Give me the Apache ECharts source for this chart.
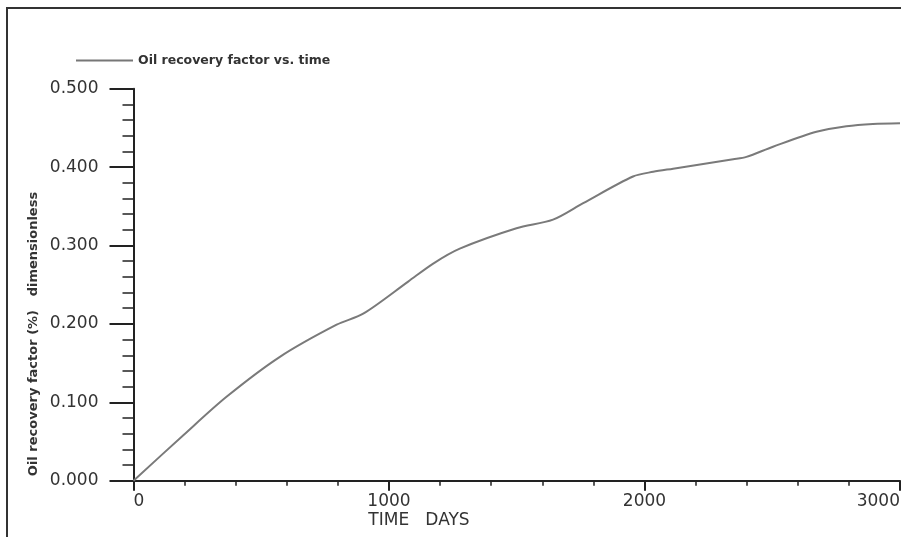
<!DOCTYPE html>
<html>
<head>
<meta charset="utf-8">
<script src="https://cdn.jsdelivr.net/npm/echarts@6/dist/echarts.min.js"></script>
<style>
html,body{margin:0;padding:0;background:#fff;}
#chart{width:901px;height:537px;}
</style>
</head>
<body>
<div id="chart"></div>
<script>
const seriesName = 'Oil recovery factor vs. time';
const timeDays = [0, 195, 364, 573, 795, 899, 1075, 1173, 1277, 1499, 1642, 1760, 1955, 2034, 2112, 2347, 2399, 2503, 2673, 2790, 2894, 3000];
const recovery = [0, 0.058, 0.107, 0.158, 0.199, 0.213, 0.254, 0.277, 0.296, 0.322, 0.333, 0.354, 0.388, 0.394, 0.398, 0.410, 0.413, 0.426, 0.445, 0.452, 0.455, 0.456];
const xTitle = 'TIME   DAYS';
const yTitle = 'Oil recovery factor (%)   dimensionless';

const chart = echarts.init(document.getElementById('chart'), null, {renderer: 'canvas'});
const axisColor = '#222';
const option = {
  animation: false,
  backgroundColor: '#fff',
  grid: {left: 133.5, right: 1, top: 88.7, bottom: 56.3, containLabel: false, outerBoundsMode: 'none'},
  legend: {
    left: 76, top: 54, padding: 0,
    icon: 'rect', itemWidth: 57, itemHeight: 2,
    itemStyle: {color: '#777'},
    textStyle: {fontFamily: 'DejaVu Sans', fontWeight: 'bold', fontSize: 12.5, color: '#333'},
    data: [seriesName]
  },
  xAxis: {
    type: 'value', min: 0, max: 3000, interval: 1000,
    axisLine: {show: true, onZero: false, lineStyle: {color: axisColor, width: 2}},
    axisTick: {show: true, inside: false, length: 10, lineStyle: {color: axisColor, width: 2}},
    minorTick: {show: true, splitNumber: 5, length: 5, lineStyle: {color: axisColor, width: 1.5}},
    splitLine: {show: false},
    axisLabel: {margin: 12, fontFamily: 'DejaVu Sans', fontSize: 17, color: '#333',
      alignMinLabel: 'left', alignMaxLabel: 'right', formatter: v => String(v)}
  },
  yAxis: {
    type: 'value', min: 0, max: 0.5, interval: 0.1,
    axisLine: {show: true, onZero: false, lineStyle: {color: axisColor, width: 2}},
    axisTick: {show: true, inside: false, length: 24, lineStyle: {color: axisColor, width: 2}},
    minorTick: {show: true, splitNumber: 5, length: 11, lineStyle: {color: axisColor, width: 1.5}},
    splitLine: {show: false},
    axisLabel: {margin: 35, fontFamily: 'DejaVu Sans', fontSize: 17, color: '#333',
      formatter: v => v.toFixed(3)}
  },
  series: [{
    name: seriesName,
    type: 'line',
    data: timeDays.map((t, i) => [t, recovery[i]]),
    smooth: 0.3,
    showSymbol: false,
    lineStyle: {color: '#7a7a7a', width: 2},
    itemStyle: {color: '#7a7a7a'}
  }],
  graphic: [
    {type: 'rect', shape: {x: 7, y: 8, width: 940, height: 580}, style: {fill: 'none', stroke: '#333', lineWidth: 2}, silent: true},
    {type: 'text', x: 419, y: 521, style: {text: xTitle, fontFamily: 'DejaVu Sans', fontSize: 17, fill: '#333', align: 'center', verticalAlign: 'middle'}},
    {type: 'text', x: 34, y: 334, rotation: Math.PI / 2, style: {text: yTitle, fontFamily: 'DejaVu Sans', fontWeight: 'bold', fontSize: 13, fill: '#333', align: 'center', verticalAlign: 'middle'}}
  ]
};
chart.setOption(option);
</script>
</body>
</html>
